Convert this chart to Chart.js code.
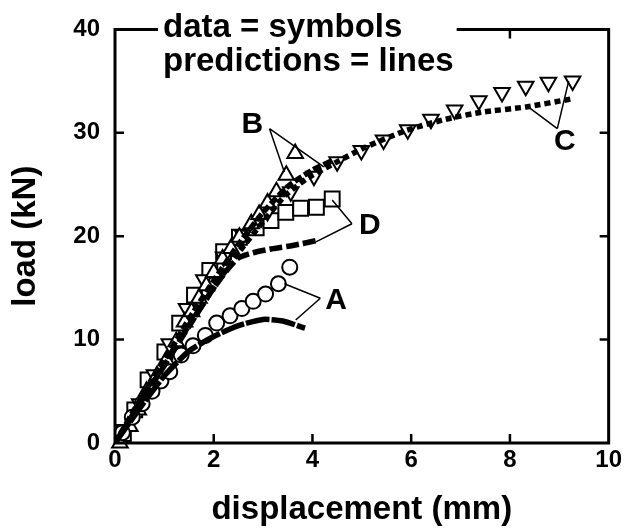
<!DOCTYPE html>
<html>
<head>
<meta charset="utf-8">
<script src="https://cdn.jsdelivr.net/npm/chart.js@4.4.1/dist/chart.umd.min.js"></script>
<style>
  body { margin: 0; background: #fff; }
  #wrap { width: 625px; height: 530px; }
</style>
</head>
<body>
<div id="wrap"><canvas id="canvas"></canvas></div>
<script>
// measured data (symbols)
const dispA = [0.15, 0.35, 0.55, 0.75, 0.93, 1.11, 1.34, 1.58, 1.83, 2.06, 2.33, 2.57, 2.80, 3.05, 3.31, 3.54]
const loadA = [1.0, 2.5, 3.8, 5.0, 6.0, 6.9, 8.5, 9.4, 10.4, 11.6, 12.3, 13.0, 13.7, 14.4, 15.4, 17.0]
const dispB = [0.1, 0.3, 0.47, 0.64, 0.85, 1.04, 1.24, 1.41, 1.55, 1.7, 1.85, 2.0, 2.18, 2.35, 2.52, 2.76, 2.92, 3.09, 3.27, 3.47, 3.65]
const loadB = [0, 1.6, 3.2, 5.0, 6.5, 8.0, 9.8, 11.7, 12.7, 14.0, 15.2, 16.5, 17.8, 18.8, 19.9, 21.2, 22.1, 23.2, 24.3, 25.9, 28.0]
const dispC = [0.2, 0.5, 0.8, 1.1, 1.45, 1.8, 2.2, 2.59, 3.09, 3.56, 4.03, 4.50, 4.99, 5.44, 5.93, 6.40, 6.88, 7.37, 7.84, 8.32, 8.78, 9.27]
const loadC = [1.3, 3.8, 6.6, 9.6, 13.0, 15.8, 18.0, 20.1, 22.4, 24.3, 25.8, 27.2, 28.3, 29.3, 30.3, 31.3, 32.2, 33.1, 33.9, 34.5, 34.9, 35.0]
const dispD = [0.17, 0.40, 0.67, 1.01, 1.31, 1.61, 1.92, 2.2, 2.52, 2.86, 3.16, 3.46, 3.76, 4.08, 4.40]
const loadD = [0.9, 3.2, 6.1, 8.8, 11.6, 14.3, 16.7, 18.5, 19.9, 20.8, 21.5, 22.3, 22.7, 22.8, 23.6]

// predictions (lines)
const predDispA = [0, 0.3, 0.6, 1.0, 1.5, 2.0, 2.5, 3.0, 3.4, 3.85]
const predLoadA = [0, 2.0, 4.0, 6.5, 8.9, 10.3, 11.35, 11.95, 11.8, 11.1]
const predDispB = [0, 0.5, 1.0, 1.5, 2.0, 2.5, 3.0, 3.5, 4.0, 4.4]
const predLoadB = [0, 4.1, 8.0, 12.0, 15.7, 19.2, 22.3, 24.8, 26.4, 27.3]
const predDispC = [0, 0.5, 1.0, 1.5, 2.0, 2.5, 3.0, 3.46, 3.93, 4.54, 5.07, 5.88, 6.69, 7.43, 8.33, 9.27]
const predLoadC = [0, 3.8, 7.6, 11.4, 15.0, 18.4, 21.4, 24.0, 25.7, 27.3, 28.6, 30.2, 31.3, 32.0, 32.5, 33.3]
const predDispD = [0, 0.5, 1.0, 1.5, 2.0, 2.3, 2.5, 2.8, 3.2, 3.6, 4.1]
const predLoadD = [0, 3.8, 7.5, 11.3, 15.0, 16.9, 17.9, 18.4, 18.8, 19.1, 19.6]

const xTicks = [0, 2, 4, 6, 8, 10]
const yTicks = [0, 10, 20, 30, 40]
const keyLines = ['data = symbols', 'predictions = lines']

// curve labels: name, label position, pointer targets (all in data units)
const tags = [
  { text: 'A', at: [4.48, 13.9], from: [4.16, 14.0], to: [[3.43, 15.4], [3.66, 11.9]] },
  { text: 'B', at: [2.78, 30.9], from: [3.13, 30.4], to: [[3.43, 26.2], [4.23, 26.7]] },
  { text: 'C', at: [9.11, 29.2], from: [8.96, 30.4], to: [[9.19, 35.0], [8.37, 32.5]] },
  { text: 'D', at: [5.16, 21.1], from: [4.80, 21.2], to: [[4.40, 23.5], [4.07, 19.45]] }
]

const FONT = "'Liberation Sans', Arial, sans-serif"

function pts(xs, ys) {
  return xs.map(function(v, i) { return { x: v, y: ys[i] } })
}

function symbols(xs, ys, style, rot, r) {
  return {
    data: pts(xs, ys), showLine: false, order: 1, clip: false,
    pointStyle: style, rotation: rot, pointRadius: r, pointHoverRadius: r,
    pointBackgroundColor: '#fff', pointBorderColor: '#000', pointBorderWidth: 2
  }
}

function prediction(xs, ys, dash) {
  return {
    data: pts(xs, ys), showLine: true, order: 0, pointRadius: 0,
    borderColor: '#000', borderWidth: 5.5, borderDash: dash, tension: 0.2,
    borderCapStyle: 'butt'
  }
}

const framePlugin = {
  id: 'frame',
  afterDatasetsDraw(chart) {
    const { ctx, chartArea: a, scales: { x, y } } = chart
    ctx.save()
    ctx.fillStyle = '#000'
    ctx.strokeStyle = '#000'

    // key text in the top margin
    ctx.font = 'bold 33px ' + FONT
    ctx.textBaseline = 'alphabetic'
    ctx.textAlign = 'left'
    const keyX = a.left + 48
    ctx.fillText(keyLines[0], keyX, a.top + 8)
    ctx.fillText(keyLines[1], keyX, a.top + 42)
    const keyW = Math.max(ctx.measureText(keyLines[0]).width, ctx.measureText(keyLines[1]).width)

    // box, with a gap in the top edge for the key
    ctx.lineWidth = 3
    ctx.lineJoin = 'miter'
    ctx.beginPath()
    ctx.moveTo(keyX - 5, a.top)
    ctx.lineTo(a.left, a.top)
    ctx.lineTo(a.left, a.bottom)
    ctx.lineTo(a.right, a.bottom)
    ctx.lineTo(a.right, a.top)
    ctx.lineTo(keyX + keyW + 3, a.top)
    ctx.stroke()

    // inward ticks on every side
    ctx.lineWidth = 2.5
    ctx.beginPath()
    xTicks.slice(1, -1).forEach(function(v) {
      const px = x.getPixelForValue(v)
      ctx.moveTo(px, a.bottom); ctx.lineTo(px, a.bottom - 9)
      if (px < keyX - 5 || px > keyX + keyW + 3) {
        ctx.moveTo(px, a.top); ctx.lineTo(px, a.top + 9)
      }
    })
    yTicks.slice(1, -1).forEach(function(v) {
      const py = y.getPixelForValue(v)
      ctx.moveTo(a.left, py); ctx.lineTo(a.left + 9, py)
      ctx.moveTo(a.right, py); ctx.lineTo(a.right - 9, py)
    })
    ctx.stroke()

    // curve names with pointer lines
    ctx.lineWidth = 1.5
    ctx.font = 'bold 30px ' + FONT
    ctx.textAlign = 'center'
    ctx.textBaseline = 'middle'
    tags.forEach(function(t) {
      const fx = x.getPixelForValue(t.from[0]), fy = y.getPixelForValue(t.from[1])
      ctx.beginPath()
      t.to.forEach(function(p) {
        ctx.moveTo(fx, fy)
        ctx.lineTo(x.getPixelForValue(p[0]), y.getPixelForValue(p[1]))
      })
      ctx.stroke()
      ctx.fillText(t.text, x.getPixelForValue(t.at[0]), y.getPixelForValue(t.at[1]) + 1)
    })
    ctx.restore()
  }
}

new Chart(document.getElementById('canvas'), {
  type: 'scatter',
  data: {
    datasets: [
      prediction(predDispA, predLoadA, [24, 2]),
      prediction(predDispB, predLoadB, [8, 3]),
      prediction(predDispC, predLoadC, [6, 4]),
      prediction(predDispD, predLoadD, [13, 4]),
      symbols(dispA, loadA, 'circle', 0, 7.5),
      symbols(dispB, loadB, 'triangle', 0, 9),
      symbols(dispC, loadC, 'triangle', 180, 9),
      symbols(dispD, loadD, 'rect', 0, 10.5)
    ]
  },
  options: {
    responsive: true,
    maintainAspectRatio: false,
    animation: false,
    layout: { padding: { top: 29, right: 14, left: 0, bottom: 0 } },
    plugins: { legend: { display: false }, tooltip: { enabled: false } },
    scales: {
      x: {
        type: 'linear', min: 0, max: 10,
        afterFit: function(s) { s.height = 87 },
        afterBuildTicks: function(s) { s.ticks = xTicks.map(function(v) { return { value: v } }) },
        grid: { display: false, drawTicks: false },
        border: { display: false },
        ticks: { color: '#000', padding: 3, font: { family: FONT, size: 24, weight: 'bold' }, maxRotation: 0 },
        title: { display: true, text: 'displacement (mm)', color: '#000', padding: { top: 0, bottom: 0 },
                 font: { family: FONT, size: 33, weight: 'bold' } }
      },
      y: {
        type: 'linear', min: 0, max: 40,
        afterFit: function(s) { s.width = 115 },
        afterBuildTicks: function(s) { s.ticks = yTicks.map(function(v) { return { value: v } }) },
        grid: { display: false, drawTicks: false },
        border: { display: false },
        ticks: { color: '#000', padding: 15, font: { family: FONT, size: 24, weight: 'bold' } },
        title: { display: true, text: 'load (kN)', color: '#000', padding: { top: 6, bottom: 0 },
                 font: { family: FONT, size: 33, weight: 'bold' } }
      }
    }
  },
  plugins: [framePlugin]
})
</script>
</body>
</html>
